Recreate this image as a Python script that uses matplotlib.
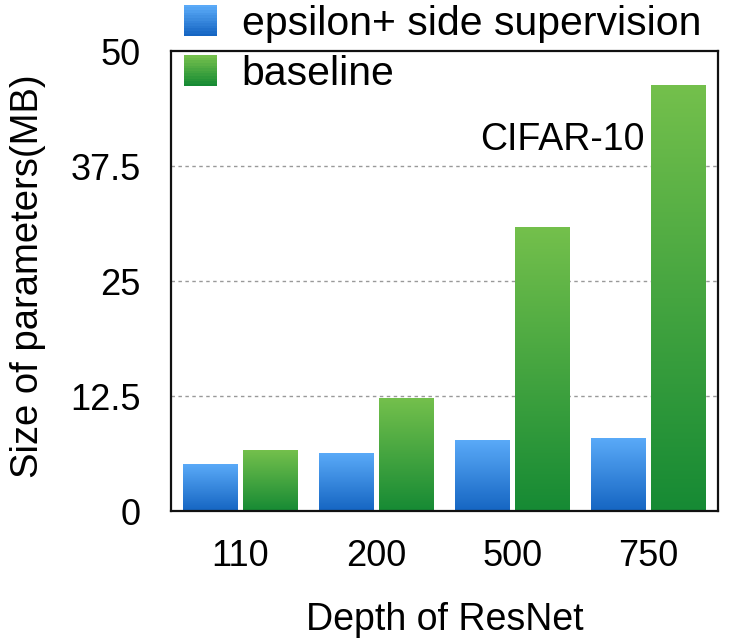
import numpy as np
import matplotlib
matplotlib.use("Agg")
import matplotlib.pyplot as plt
from matplotlib.patches import Rectangle
from matplotlib.legend_handler import HandlerBase
from matplotlib.colors import LinearSegmentedColormap

plt.rcParams['font.family'] = ['Liberation Sans', 'DejaVu Sans']

depths = ["110", "200", "500", "750"]
epsilon_side = [5.1, 6.3, 7.7, 7.9]
baseline = [6.6, 12.2, 30.8, 46.3]
y_ticks = [0, 12.5, 25, 37.5, 50]
y_tick_labels = ["0", "12.5", "25", "37.5", "50"]

blue_cmap = LinearSegmentedColormap.from_list("blue", ["#1565C2", "#5AAAF8"])
green_cmap = LinearSegmentedColormap.from_list("green", ["#168A34", "#74C04C"])


class GradientHandler(HandlerBase):
    def __init__(self, cmap, n=12):
        super().__init__()
        self.cmap = cmap
        self.n = n

    def create_artists(self, legend, orig_handle, xdescent, ydescent,
                       width, height, fontsize, trans):
        arts = []
        h = height / self.n
        for k in range(self.n):
            r = Rectangle((-xdescent, -ydescent + k * h), width, h * 1.05,
                          facecolor=self.cmap(k / (self.n - 1)),
                          edgecolor='none', transform=trans)
            arts.append(r)
        return arts


def gradient_bars(ax, xs, vals, width, cmap):
    bars = ax.bar(xs, vals, width, color='none', edgecolor='none', zorder=2)
    grad = np.linspace(1, 0, 256).reshape(-1, 1)
    for b in bars:
        x0 = b.get_x()
        x1 = x0 + b.get_width()
        h = b.get_height()
        ax.imshow(grad, cmap=cmap, extent=[x0, x1, 0, h], aspect='auto',
                  interpolation='bicubic', zorder=2, vmin=0, vmax=1)
    return bars


fig = plt.figure(figsize=(7.36, 6.44), dpi=100)
ax = fig.add_axes([0.2323, 0.2065, 0.7432, 0.7143])

x = np.arange(len(depths))
bw = 0.404
off = 0.22
b1 = gradient_bars(ax, x - off, epsilon_side, bw, blue_cmap)
b2 = gradient_bars(ax, x + off, baseline, bw, green_cmap)

ax.set_xlim(-0.51, 3.51)
ax.set_ylim(0, 50)
ax.set_yticks(y_ticks)
ax.set_yticklabels(y_tick_labels)
ax.set_xticks(x)
ax.set_xticklabels(depths)
ax.tick_params(axis='both', length=0, labelsize=26)
ax.tick_params(axis='y', pad=22)
ax.tick_params(axis='x', pad=20)

for yv in y_ticks[1:-1]:
    ax.axhline(yv, color='#999999', linestyle=(0, (2.5, 2.5)), linewidth=1.0, zorder=1)

for s in ax.spines.values():
    s.set_linewidth(1.6)
    s.set_color('#111111')

ax.set_ylabel("Size of parameters(MB)", fontsize=27.5)
ax.yaxis.set_label_coords(-0.228, 0.51)
ax.set_xlabel("Depth of ResNet", fontsize=27, labelpad=20)

ax.text(2.97, 39.2, "CIFAR-10", fontsize=27, ha='right', va='baseline')

fig.legend([b1, b2], ["epsilon+ side supervision", "baseline"],
           handler_map={b1: GradientHandler(blue_cmap), b2: GradientHandler(green_cmap)},
           loc='upper left', bbox_to_anchor=(0.245, 0.999), frameon=False,
           fontsize=29.5, handlelength=0.8, handleheight=0.8,
           handletextpad=0.6, labelspacing=0.3, borderaxespad=0.0, borderpad=0.1)

fig.savefig("out.png", dpi=100)
